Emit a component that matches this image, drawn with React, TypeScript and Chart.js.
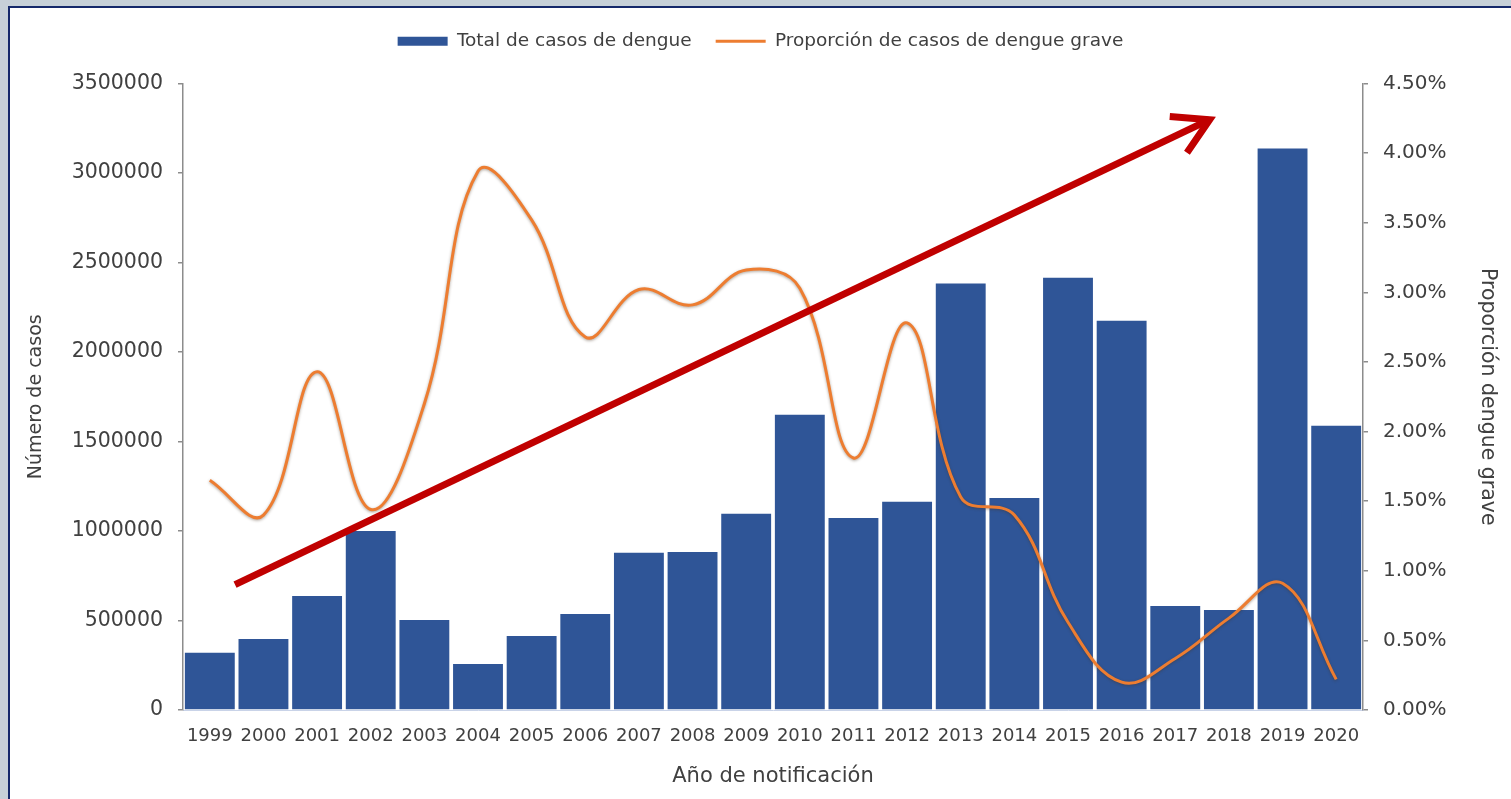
import React, { useEffect, useRef } from 'react';
import { Chart, registerables } from 'chart.js';

Chart.register(...registerables);

const YEARS = ['1999', '2000', '2001', '2002', '2003', '2004', '2005', '2006', '2007', '2008', '2009', '2010', '2011', '2012', '2013', '2014', '2015', '2016', '2017', '2018', '2019', '2020'];
const TOTAL_CASES = [320000, 397000, 637000, 1000000, 503000, 257000, 414000, 537000, 878000, 883000, 1096000, 1649000, 1073000, 1163000, 2382000, 1185000, 2415000, 2175000, 581000, 559000, 3137000, 1588000];
const SEVERE_PROPORTION = [0.0165, 0.014, 0.0243, 0.0144, 0.022, 0.0387, 0.0352, 0.0268, 0.0302, 0.0291, 0.0316, 0.0303, 0.0181, 0.0278, 0.0153, 0.014, 0.0063, 0.002, 0.0037, 0.0066, 0.0091, 0.0022];

const LEFT_TICK_MAX = 3500000;
const LEFT_TICK_STEP = 500000;
const RIGHT_TICK_MAX = 0.045;
const RIGHT_TICK_STEP = 0.005;

// Trend arrow annotation, in data units (category index, proportion on right axis)
const ARROW_START = { x: 0.47, y: 0.009 };
const ARROW_END = { x: 18.64, y: 0.0424 };

const LABEL_BARS = 'Total de casos de dengue';
const LABEL_LINE = 'Proporción de casos de dengue grave';
const TITLE_LEFT = 'Número de casos';
const TITLE_RIGHT = 'Proporción dengue grave';
const TITLE_X = 'Año de notificación';

const FONT = "'DejaVu Sans', Verdana, sans-serif";
const TEXT = '#404040';
const AXIS = '#8c8c8c';

const arrowPlugin = {
  id: 'trendArrow',
  afterDatasetsDraw(chart: any) {
    const xs = chart.scales.x;
    const ys = chart.scales.y1;
    const x0 = xs.getPixelForValue(ARROW_START.x);
    const y0 = ys.getPixelForValue(ARROW_START.y);
    const x1 = xs.getPixelForValue(ARROW_END.x);
    const y1 = ys.getPixelForValue(ARROW_END.y);
    const ang = Math.atan2(y1 - y0, x1 - x0);
    const head = 40;
    const spread = Math.PI / 6;
    const ctx = chart.ctx;
    ctx.save();
    ctx.strokeStyle = '#c00000';
    ctx.lineWidth = 7;
    ctx.lineCap = 'butt';
    ctx.beginPath();
    ctx.moveTo(x0, y0);
    ctx.lineTo(x1, y1);
    ctx.stroke();
    ctx.lineJoin = 'miter';
    ctx.beginPath();
    ctx.moveTo(x1 - head * Math.cos(ang - spread), y1 - head * Math.sin(ang - spread));
    ctx.lineTo(x1, y1);
    ctx.lineTo(x1 - head * Math.cos(ang + spread), y1 - head * Math.sin(ang + spread));
    ctx.stroke();
    ctx.restore();
  },
};

const shadowPlugin = {
  id: 'lineShadow',
  beforeDatasetDraw(chart: any, args: any) {
    if (args.meta.type === 'line') {
      const ctx = chart.ctx;
      ctx.save();
      ctx.shadowColor = 'rgba(70,50,30,0.45)';
      ctx.shadowBlur = 3;
      ctx.shadowOffsetX = 0;
      ctx.shadowOffsetY = 1;
    }
  },
  afterDatasetDraw(chart: any, args: any) {
    if (args.meta.type === 'line') {
      chart.ctx.restore();
    }
  },
};

export default function App() {
  const ref = useRef<HTMLCanvasElement>(null);

  useEffect(() => {
    if (!ref.current) return;
    const chart = new Chart(ref.current, {
      type: 'bar',
      data: {
        labels: YEARS,
        datasets: [
          {
            type: 'bar',
            label: LABEL_BARS,
            data: TOTAL_CASES,
            backgroundColor: '#2f5597',
            borderWidth: 0,
            barPercentage: 0.93,
            categoryPercentage: 1,
            yAxisID: 'y',
            order: 2,
            pointStyle: 'rect',
          } as any,
          {
            type: 'line',
            label: LABEL_LINE,
            data: SEVERE_PROPORTION,
            borderColor: '#ed7d31',
            backgroundColor: '#ed7d31',
            borderWidth: 3,
            pointRadius: 0,
            tension: 0.4,
            fill: false,
            yAxisID: 'y1',
            order: 1,
            pointStyle: 'line',
          } as any,
        ],
      },
      options: {
        animation: false,
        responsive: true,
        maintainAspectRatio: false,
        events: [],
        layout: { padding: { top: 0, left: 0, right: 0, bottom: 0 } },
        plugins: {
          legend: {
            display: true,
            position: 'top',
            weight: 3000,
            labels: {
              usePointStyle: true,
              pointStyleWidth: 50,
              boxHeight: 9,
              padding: 24,
              color: TEXT,
              font: { family: FONT, size: 18.5 },
              sort: (a: any, b: any) => a.datasetIndex - b.datasetIndex,
            },
          } as any,
          subtitle: {
            display: true,
            text: '',
            position: 'top',
            font: { size: 1, lineHeight: 1 },
            padding: { top: 22, bottom: 0 },
          },
          tooltip: { enabled: false },
        },
        scales: {
          x: {
            grid: { display: false, drawTicks: false },
            border: { display: true, color: '#c9d3e8', width: 1 },
            ticks: {
              autoSkip: false,
              maxRotation: 0,
              minRotation: 0,
              padding: 16,
              color: TEXT,
              font: { family: FONT, size: 18 },
            },
            title: {
              display: true,
              text: TITLE_X,
              color: TEXT,
              font: { family: FONT, size: 21 },
              padding: { top: 0, bottom: 10 },
            },
            afterFit: (s: any) => {
              s.height = 89;
            },
          },
          y: {
            position: 'left',
            min: 0,
            max: LEFT_TICK_MAX,
            ticks: {
              stepSize: LEFT_TICK_STEP,
              padding: 15,
              color: TEXT,
              font: { family: FONT, size: 20.5 },
              callback: (v: any) => String(v),
            },
            grid: { drawOnChartArea: false, drawTicks: true, tickLength: 5, color: AXIS, lineWidth: 1.5 },
            border: { display: true, color: AXIS, width: 1.5 },
            title: {
              display: true,
              text: TITLE_LEFT,
              color: TEXT,
              font: { family: FONT, size: 19 },
              padding: { top: 15, bottom: 0 },
            },
            afterFit: (s: any) => {
              s.width = 173;
            },
          },
          y1: {
            position: 'right',
            min: 0,
            max: RIGHT_TICK_MAX,
            ticks: {
              stepSize: RIGHT_TICK_STEP,
              padding: 15,
              color: TEXT,
              font: { family: FONT, size: 20 },
              callback: (v: any) => (v * 100).toFixed(2) + '%',
            },
            grid: { drawOnChartArea: false, drawTicks: true, tickLength: 5, color: AXIS, lineWidth: 1.5 },
            border: { display: true, color: AXIS, width: 1.5 },
            title: {
              display: true,
              text: TITLE_RIGHT,
              color: TEXT,
              font: { family: FONT, size: 20.5 },
              padding: { top: 11, bottom: 0 },
            },
            afterFit: (s: any) => {
              s.width = 148;
            },
          },
        },
      } as any,
      plugins: [shadowPlugin, arrowPlugin],
    });
    return () => chart.destroy();
  }, []);

  return (
    <div style={{ position: 'fixed', left: 0, top: 0, width: 1511, height: 799, background: '#c6d0d8', overflow: 'hidden' }}>
      <div
        style={{
          position: 'absolute',
          left: 8,
          top: 6,
          width: 1501,
          height: 791,
          background: '#ffffff',
          borderLeft: '2px solid #14286a',
          borderTop: '2px solid #14286a',
        }}
      >
        <canvas ref={ref} />
      </div>
    </div>
  );
}
